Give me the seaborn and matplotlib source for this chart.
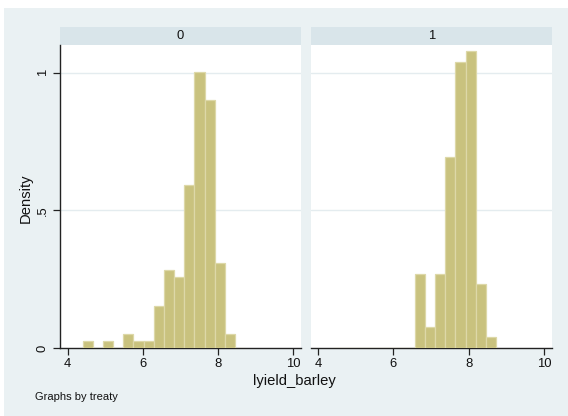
import numpy as np
import pandas as pd
import seaborn as sns
import matplotlib
matplotlib.use("Agg")
import matplotlib.pyplot as plt
from matplotlib.patches import Rectangle

# Common histogram bins shared by both treaty groups
bin_start = 4.40
bin_width = 0.2705
n_bins = 16

# Observation counts per bin for each group
counts_treaty0 = [1, 0, 1, 0, 2, 1, 1, 6, 11, 10, 23, 39, 35, 12, 2, 0]
counts_treaty1 = [0, 0, 0, 0, 0, 0, 0, 0, 7, 2, 7, 18, 27, 28, 6, 1]
groups = ["0", "1"]

x_ticks = [4, 6, 8, 10]
y_ticks = [0, 0.5, 1]
y_tick_labels = ["0", ".5", "1"]

edges = [float(bin_start + bin_width * i) for i in range(n_bins + 1)]
centers = [(a + b) / 2 for a, b in zip(edges[:-1], edges[1:])]

df = pd.concat([
    pd.DataFrame({"lyield_barley": centers, "n": counts_treaty0, "treaty": groups[0]}),
    pd.DataFrame({"lyield_barley": centers, "n": counts_treaty1, "treaty": groups[1]}),
], ignore_index=True)

sns.set_theme(style="white")
plt.rcParams["font.family"] = ["Liberation Sans", "DejaVu Sans"]

W, H = 568, 416
fig = plt.figure(figsize=(W / 100, H / 100), dpi=100, facecolor="white")

outer = "#EAF1F3"
strip_col = "#D9E5EA"
bar_fill = "#C9C27E"
bar_edge = "#DDD8A8"
grid_col = "#E4ECEF"
axis_col = "#222222"
tick_fs = 9.4

fig.patches.append(Rectangle((4 / W, 0), (W - 4) / W, (H - 8) / H,
                             transform=fig.transFigure, facecolor=outer,
                             edgecolor="none", zorder=-10))

bottom = (H - 348) / H
height = 303 / H
panels = [(60, 301), (310.5, 552)]
strip_h = 18 / 303

axes = []
for (xl, xr), grp in zip(panels, groups):
    ax = fig.add_axes([xl / W, bottom, (xr - xl) / W, height])
    sub = df[df["treaty"] == grp].reset_index(drop=True)
    sns.histplot(data=sub, x="lyield_barley", weights="n", bins=edges,
                 stat="density", ax=ax, color=bar_fill, alpha=1,
                 edgecolor=bar_edge, linewidth=0.9, zorder=3)
    ax.set_facecolor("white")
    ax.set_xlim(3.80, 10.21)
    ax.set_ylim(0, 1.10)
    for y in [0.5, 1.0]:
        ax.axhline(y, color=grid_col, lw=1.0, zorder=1)
    for s in ["top", "right"]:
        ax.spines[s].set_visible(False)
    ax.spines["bottom"].set_color(axis_col)
    ax.spines["bottom"].set_linewidth(1.0)
    ax.set_xticks(x_ticks)
    ax.set_xticklabels([str(t) for t in x_ticks])
    ax.tick_params(axis="x", bottom=True, direction="out", length=5, width=0.9,
                   color=axis_col, labelsize=tick_fs, pad=2, labelcolor="#111111")
    ax.set_xlabel("")
    ax.set_ylabel("")
    # facet strip
    ax.add_patch(Rectangle((0, 1), 1, strip_h, transform=ax.transAxes,
                           facecolor=strip_col, edgecolor="none", clip_on=False))
    ax.text(0.5, 1 + strip_h / 2, grp, transform=ax.transAxes, ha="center",
            va="center", fontsize=tick_fs, color="#111111")
    axes.append(ax)

ax0, ax1 = axes
ax0.spines["left"].set_color(axis_col)
ax0.spines["left"].set_linewidth(1.0)
ax0.set_yticks(y_ticks)
ax0.set_yticklabels(y_tick_labels, rotation=90, va="center")
ax0.tick_params(axis="y", left=True, direction="out", length=5, width=0.9,
                color=axis_col, labelsize=tick_fs, pad=3, labelcolor="#111111")

ax1.spines["left"].set_visible(False)
ax1.set_yticks(y_ticks)
ax1.tick_params(axis="y", left=False, labelleft=False)

fig.text(26 / W, 1 - 198 / H, "Density", rotation=90, ha="center", va="center",
         fontsize=10.6, color="#111111")
fig.text(294 / W, 1 - 381 / H, "lyield_barley", ha="center", va="center",
         fontsize=10.6, color="#111111")
fig.text(35 / W, 1 - 397 / H, "Graphs by treaty", ha="left", va="center",
         fontsize=8, color="#111111")

fig.savefig("out.png", dpi=100, facecolor="white")
